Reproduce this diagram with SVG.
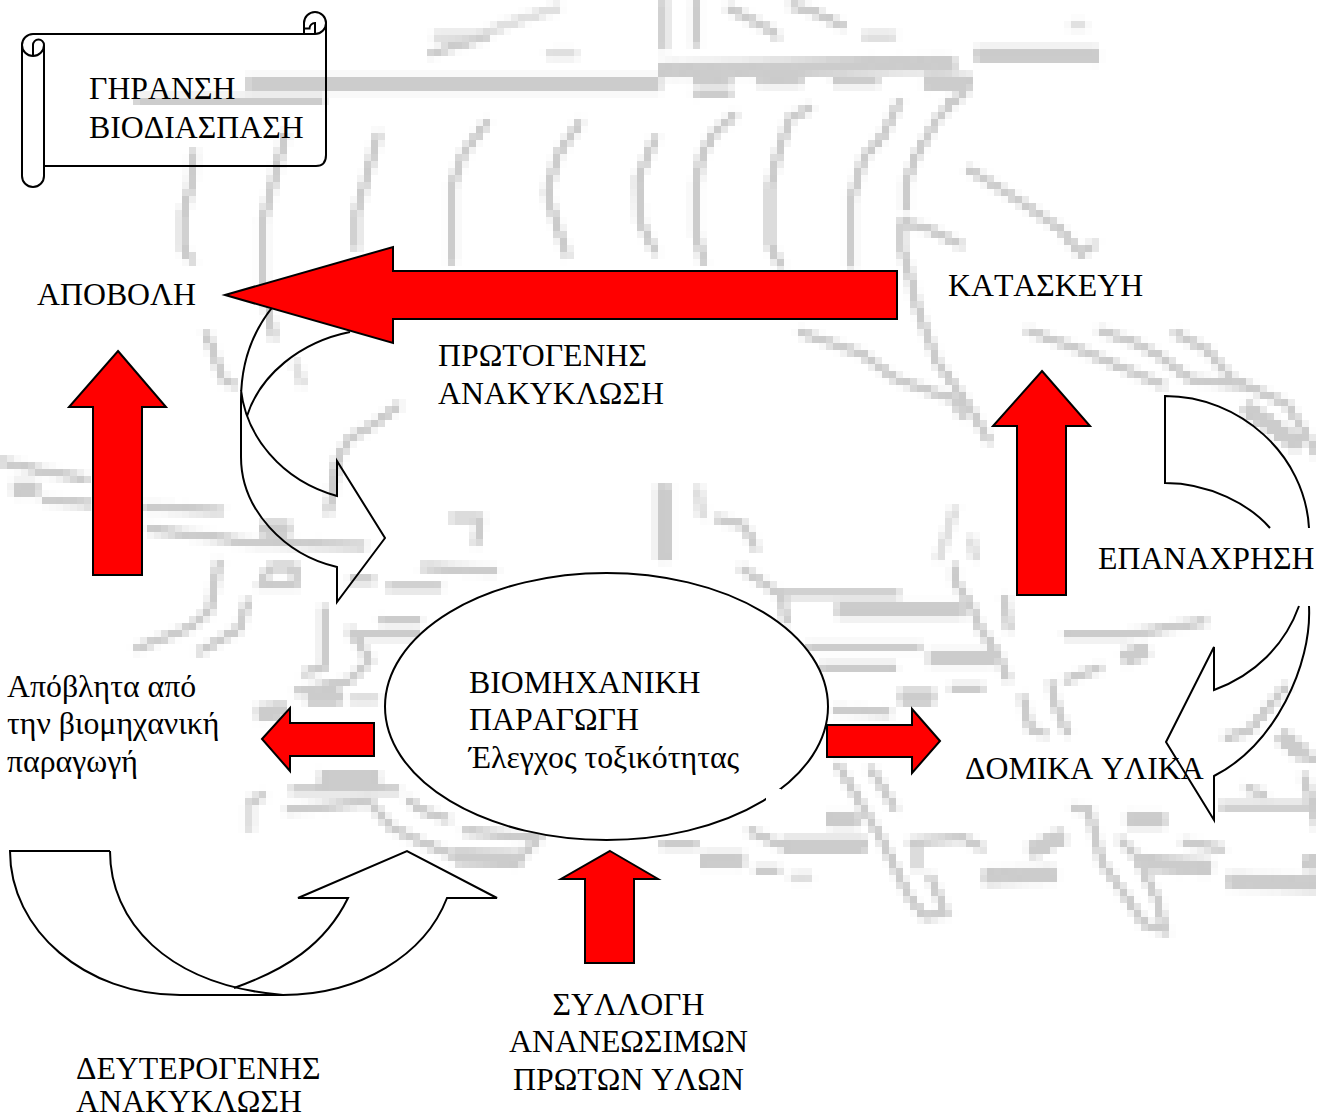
<svg xmlns="http://www.w3.org/2000/svg" width="1319" height="1119" viewBox="0 0 1319 1119">
<style>
text{font-family:"Liberation Serif","Times New Roman",serif;font-size:31.800px;fill:#000;font-kerning:none}
.a{fill:#f00;stroke:#000;stroke-width:2;stroke-linejoin:miter}
.c{fill:none;stroke:#000;stroke-width:2;stroke-linejoin:miter}
#bg polyline{fill:none;stroke:#ccc;stroke-width:6}
#bg .t{stroke-width:14}
#bg .l{stroke:#e0e0e0;stroke-width:7}
</style>
<defs>
<filter id="px" filterUnits="userSpaceOnUse" primitiveUnits="userSpaceOnUse" x="0" y="0" width="1319" height="1119" color-interpolation-filters="sRGB">
<feGaussianBlur in="SourceGraphic" stdDeviation="2.500" result="b"/>
<feFlood x="3" y="3" width="1" height="1" flood-color="#000"/>
<feComposite width="7" height="7"/>
<feTile result="g"/>
<feComposite in="b" in2="g" operator="in"/>
<feMorphology operator="dilate" radius="3"/>
<feComponentTransfer><feFuncA type="linear" slope="1.6"/></feComponentTransfer>
</filter>
</defs>
<rect width="1319" height="1119" fill="#fff"/>
<g id="bg" filter="url(#px)">
<polyline class="t" points="248,84 660,84"/><polyline class="t" points="660,70 955,64"/><polyline class="t" points="976,55 1098,55"/>
<polyline points="135,100 324,100"/><polyline points="694,82 732,82"/><polyline points="694,93 732,93"/>
<polyline points="757,82 803,82"/><polyline points="833,82 879,82"/><polyline class="t" points="925,82 971,82"/><polyline points="967,93 946,104"/>
<polyline points="194,150 191,186 183,214 183,250 194,262"/>
<polyline points="286,132 274,179 263,221 263,282 274,339"/>
<polyline points="379,132 366,179 356,214 356,250"/>
<polyline points="488,121 463,154 452,186 452,264"/>
<polyline points="581,121 558,154 547,193 558,229 568,257"/>
<polyline points="656,136 638,179 640,221 656,254"/>
<polyline points="433,36 480,36 505,25 560,7" class="l"/><polyline points="429,54 455,46 488,36"/><polyline class="l" points="547,54 577,54"/>
<polyline points="206,332 223,379 236,386"/><polyline class="l" points="295,361 303,386"/>
<polyline points="400,404 379,421 349,439 337,461 328,514"/>
<polyline points="0,461 42,471 88,479"/><polyline class="t" points="13,489 38,489"/><polyline points="42,500 93,504"/><polyline points="143,507 223,511"/>
<polyline points="147,529 227,539 253,543 366,546"/><polyline class="t" points="261,529 290,529"/><polyline points="450,518 480,518 476,546"/>
<polyline points="269,567 295,567 295,585 261,585 269,567"/>
<polyline points="219,560 210,610 189,628 135,649"/><polyline points="248,599 240,628 198,653"/>
<polyline points="324,606 324,667 303,674"/><polyline points="349,628 370,660 349,681 295,692"/>
<polyline points="349,635 421,635"/><polyline points="379,621 421,621"/><polyline points="387,587 442,587"/><polyline points="349,580 375,580"/><polyline points="421,567 497,571"/>
<polyline class="t" points="307,697 341,697"/><polyline class="l" points="349,699 379,699"/><polyline class="t" points="257,713 286,710"/>
<polyline class="t" points="320,779 379,779"/><polyline points="290,790 400,790"/>
<polyline points="248,802 265,795"/><polyline class="l" points="250,806 250,831"/>
<polyline points="286,810 370,802 391,827 421,842 455,856"/><polyline class="t" points="455,857 522,859"/><polyline points="408,799 421,810 450,820"/><polyline points="463,831 539,838 522,856"/>
<polyline points="664,0 664,50"/><polyline points="696,0 696,46"/>
<polyline points="727,7 774,32 778,39"/><polyline points="790,5 812,11 845,27"/><polyline class="l" points="862,36 896,36"/><polyline class="l" points="1070,25 1086,25"/>
<polyline points="736,114 715,132 702,154 696,186 696,232 704,264"/>
<polyline points="812,107 790,118 778,154 770,186 770,246 782,268"/>
<polyline points="900,100 883,136 864,157 851,200 851,268"/>
<polyline points="955,100 938,118 917,154 906,182 906,211"/>
<polyline points="900,221 929,229 963,246"/><polyline points="902,221 902,250 908,268 917,307 925,329 938,364 955,386 976,418 990,443"/>
<polyline points="967,168 1018,200 1060,229 1081,254 1096,243"/>
<polyline points="799,332 862,354 896,379 955,400 963,418"/>
<polyline points="1026,330 1081,350 1123,368 1165,386"/>
<polyline points="1098,330 1136,343 1161,357 1190,379 1249,386"/>
<polyline points="1173,332 1207,350 1232,379 1287,404 1319,457"/>
<polyline class="t" points="1245,407 1300,446"/>
<polyline class="t" points="664,486 664,560"/><polyline class="l" points="698,486 702,518"/><polyline points="715,518 744,525 757,550"/>
<polyline class="l" points="955,507 946,536 938,560"/><polyline class="l" points="971,536 975,560"/>
<polyline points="740,567 782,596 786,624"/><polyline points="782,594 900,594"/><polyline class="t" points="837,610 963,610"/>
<polyline points="955,564 955,581 971,606 980,628 997,653 1009,681"/><polyline points="1005,596 1009,631"/>
<polyline points="807,647 921,647"/><polyline class="t" points="929,658 992,658"/><polyline points="820,667 896,667"/><polyline points="950,688 984,688"/>
<polyline class="t" points="900,697 934,697"/><polyline points="833,710 891,713"/>
<polyline points="1022,695 1030,728 1047,735"/><polyline points="1051,681 1056,706 1068,735"/>
<polyline points="1064,635 1127,635 1207,621"/><polyline class="t" points="1123,658 1148,650"/><polyline points="1064,681 1102,667"/>
<polyline points="837,763 862,806 883,842 908,895 925,917 946,913 929,874"/><polyline points="870,767 896,810"/>
<polyline points="908,842 963,838 984,849"/><polyline points="917,842 917,870"/>
<polyline class="t" points="782,845 866,845"/><polyline class="t" points="702,860 744,860"/><polyline points="660,845 698,845"/>
<polyline points="748,830 780,845"/><polyline points="755,870 780,870"/><polyline class="l" points="790,877 812,877"/>
<polyline class="t" points="828,820 858,820"/>
<polyline class="t" points="984,877 1056,874"/><polyline class="t" points="1030,852 1064,835"/>
<polyline points="1072,808 1089,810 1102,863 1123,892 1144,924 1165,931 1157,899 1136,856 1119,838"/>
<polyline class="t" points="1127,820 1165,820"/><polyline class="t" points="1140,863 1211,867"/><polyline points="1182,842 1224,849"/>
<polyline class="t" points="1228,881 1319,884"/><polyline class="t" points="1304,863 1319,863"/>
<polyline points="1220,806 1319,806"/><polyline points="1287,685 1249,731 1224,738"/><polyline points="1245,788 1266,795"/>
<polyline points="1291,752 1319,760"/><polyline points="1304,774 1319,831"/><polyline class="t" points="1280,735 1305,755"/>
</g>
<rect x="1088" y="528" width="231" height="78" fill="#fff"/>

<g id="connectors">
<path class="c" d="M300,280C262,310 241,350 241,400L241,457C241,510 285,555 337,567L337,602L385,538L337,461L337,496C280,480 246,435 241,390"/>
<path class="c" d="M350,332C300,342 260,375 247,416"/>
<path class="c" d="M110,851L10,851C10,930 85,995 180,995L283,995C360,995 425,955 447,898L497,898L407,851L298,898L348,898C325,945 285,970 234,988"/>
<path class="c" d="M110,851C110,920 165,985 283,995"/>
<path class="c" d="M1270,528C1250,505 1210,483 1165,483L1165,396C1240,396 1305,455 1309,528"/>
<path class="c" d="M1309,606C1312,665 1275,745 1214,776L1214,820L1166,742L1214,647L1214,690C1255,675 1285,645 1299,606"/>
<path class="a" d="M225,295L393,247L393,271L897,271L897,319L393,319L393,343Z"/>
<path class="a" d="M118,351L166,407L142,407L142,575L93,575L93,407L69,407Z"/>
<path class="a" d="M1042,371L1090,426L1066,426L1066,595L1017,595L1017,426L993,426Z"/>
<path class="a" d="M610,851L658,879L634,879L634,963L585,963L585,879L561,879Z"/>
<path class="a" d="M262,739L290,708L290,723L374,723L374,756L290,756L290,771Z"/>
<path class="a" d="M940,741L912,709L912,725L827,725L827,757L912,757L912,773Z"/>
</g>

<g id="scroll">
<path fill="none" stroke="#000" stroke-width="2" d="M44,166L316,166Q326,166 326,155L326,23A11,11 0 0 0 304,23L304,34L33,34A11,11 0 0 0 22,45L22,176A11,11 0 0 0 44,176L44,45A11,11 0 0 1 22,45M44,45A5.5,5.5 0 0 0 33,45L33,56M304,34L315,34A11,11 0 0 0 326,23M315,34L315,23A5.5,5.5 0 0 0 309.5,28.500L304,28.500"/>
<text x="89" y="99">ΓΗΡΑΝΣΗ</text>
<text x="89" y="138">ΒΙΟΔΙΑΣΠΑΣΗ</text>
</g>
<g id="apovoli"><text x="37" y="305">ΑΠΟΒΟΛΗ</text></g>
<g id="kataskevi"><text x="948" y="296">ΚΑΤΑΣΚΕΥΗ</text></g>
<g id="protogenis"><text x="438" y="366">ΠΡΩΤΟΓΕΝΗΣ</text><text x="438" y="404">ΑΝΑΚΥΚΛΩΣΗ</text></g>
<g id="epanachrisi"><text x="1098" y="569">ΕΠΑΝΑΧΡΗΣΗ</text></g>
<g id="paragogi">
<ellipse cx="606.500" cy="706.500" rx="221.500" ry="133.500" fill="#fff" stroke="#000" stroke-width="2"/>
<rect x="766" y="789" width="15" height="11" fill="#fff"/>
<text x="469" y="693">ΒΙΟΜΗΧΑΝΙΚΗ</text><text x="469" y="730">ΠΑΡΑΓΩΓΗ</text><text x="469" y="768">Έλεγχος τοξικότητας</text>
</g>
<g id="apovlita"><text x="7" y="697">Απόβλητα από</text><text x="7" y="734">την βιομηχανική</text><text x="7" y="772">παραγωγή</text></g>
<g id="domika"><text x="965" y="779">ΔΟΜΙΚΑ ΥΛΙΚΑ</text></g>
<g id="syllogi" text-anchor="middle"><text x="628.500" y="1015">ΣΥΛΛΟΓΗ</text><text x="628.500" y="1052">ΑΝΑΝΕΩΣΙΜΩΝ</text><text x="628.500" y="1090">ΠΡΩΤΩΝ ΥΛΩΝ</text></g>
<g id="defterogenis"><text x="76" y="1079">ΔΕΥΤΕΡΟΓΕΝΗΣ</text><text x="76" y="1112">ΑΝΑΚΥΚΛΩΣΗ</text></g>
</svg>
